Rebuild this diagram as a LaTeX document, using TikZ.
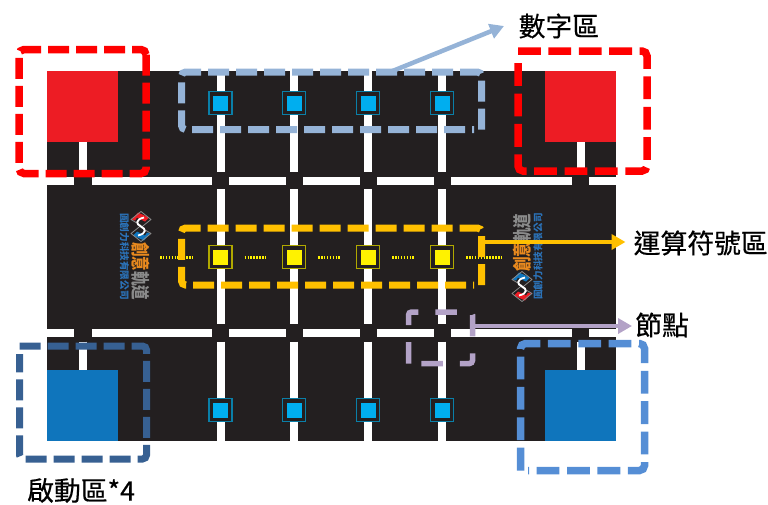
\documentclass[tikz,border=0pt]{standalone}
\usepackage{fontspec}
\setmainfont{Noto Sans CJK TC}
\newfontfamily\capfont[FakeBold=0.5]{Noto Sans CJK TC}
\usetikzlibrary{arrows.meta}
\definecolor{board}{HTML}{231F20}
\definecolor{tilered}{HTML}{ED1C24}
\definecolor{tileblue}{HTML}{0F75BC}
\definecolor{digitfill}{HTML}{00AEEF}
\definecolor{digitline}{HTML}{0A7FA8}
\definecolor{opfill}{HTML}{FFF200}
\definecolor{opline}{HTML}{B0A800}
\definecolor{zonedigit}{HTML}{95B3D7}
\definecolor{zoneop}{HTML}{FFC000}
\definecolor{zonenode}{HTML}{B3A2C7}
\definecolor{zonedark}{HTML}{376092}
\definecolor{zonelight}{HTML}{558ED5}
\definecolor{logoorange}{HTML}{E8891E}
\definecolor{logogray}{HTML}{8A8A8A}
\definecolor{logoblue}{HTML}{2B72B8}
\tikzset{
  whiteline/.style={draw=white,line width=8pt},
  tileouter/.style={rectangle,draw=#1,line width=1.2pt,fill=board,minimum size=23pt,inner sep=0pt},
  tileinner/.style={rectangle,fill=#1,minimum size=15pt,inner sep=0pt},
  zonered/.style={draw=red,line width=7.5pt,rounded corners=5pt,dash pattern=on 21pt off 7pt},
  zonewide/.style={draw=#1,line width=7.5pt,rounded corners=5pt,dash pattern=on 22.8pt off 7.6pt},
  zonethin/.style={draw=#1,line width=7pt,rounded corners=4pt,dash pattern=on 21pt off 7pt},
  pointer/.style={draw=#1,line width=4.5pt,-{Triangle[length=14pt,width=15pt]}},
  caption/.style={anchor=west,inner sep=0pt,font=\capfont\fontsize{26.8}{28}\selectfont,text=black},
  dots/.style={draw=opfill,line width=3pt,dash pattern=on 1.5pt off 1.4pt},
  logobig/.style={inner sep=0pt,font=\fontsize{14.5}{15}\selectfont\bfseries},
  logosmall/.style={inner sep=0pt,font=\fontsize{9.6}{10}\selectfont\bfseries,text=logoblue},
  brandmark/.pic={
    \fill[tilered] (-3,-14) -- (8,-9) -- (4,-5) -- (-4,-9) -- (-6,-6) -- (-9,-7) -- cycle;
    \fill[tileblue] (3,14) -- (-8,9) -- (-4,5) -- (4,9) -- (6,6) -- (9,7) -- cycle;
    \draw[logogray,line width=.8pt,line join=round] (0,-15) -- (10,-7) -- (0,1) -- (10,7) -- (0,15) -- (-10,7) -- (0,-1) -- (-10,-7) -- cycle;
    \draw[white,line width=1.8pt] (3,-9) .. controls (-6,-7) and (-5,-2) .. (0,0) .. controls (5,2) and (6,7) .. (-3,9);
  }
}
\begin{document}
\begin{tikzpicture}[x=1pt,y=-1pt]
\useasboundingbox (0,0) rectangle (768,504);
% board
\fill[board] (47,71) rectangle (616,441);
\fill[tilered] (47,71) rectangle (118,142);
\fill[tilered] (545,71) rectangle (616,142);
\fill[tileblue] (47,370) rectangle (118,441);
\fill[tileblue] (545,370) rectangle (616,441);
% tracks
\foreach \lx in {220.5,294,368,442}{
  \draw[whiteline] (\lx,71) -- (\lx,172);
  \draw[whiteline] (\lx,189) -- (\lx,323.5);
  \draw[whiteline] (\lx,341.5) -- (\lx,441);
}
\foreach \ly in {180.5,333}{
  \foreach \xa/\xb in {47/74,92/212,229/286,303/360,377/434,451/572,589/616}{
    \draw[whiteline] (\xa,\ly) -- (\xb,\ly);
  }
}
\foreach \lx in {83,580.5}{
  \draw[whiteline] (\lx,142) -- (\lx,172);
  \draw[whiteline] (\lx,341.5) -- (\lx,370);
}
% tiles
\foreach \n/\lx in {1/220.5,2/294,3/368,4/442}{
  \node[tileouter=digitline] (top\n) at (\lx,103) {};
  \node[tileinner=digitfill] (topin\n) at (\lx,103) {};
  \node[tileouter=digitline] (bot\n) at (\lx,410) {};
  \node[tileinner=digitfill] (botin\n) at (\lx,410) {};
  \node[tileouter=opline] (op\n) at (\lx,257) {};
  \node[tileinner=opfill] (opin\n) at (\lx,257) {};
}
% dotted links
\coordinate (dotL) at (160,257);
\coordinate (dotR) at (503,257);
\draw[dots,shorten >=14pt] (dotL) -- (op1.west);
\draw[dots,shorten <=12pt,shorten >=15pt] (op1.east) -- (op2.west);
\draw[dots,shorten <=12pt,shorten >=15pt] (op2.east) -- (op3.west);
\draw[dots,shorten <=12pt,shorten >=15pt] (op3.east) -- (op4.west);
\draw[dots,shorten <=12pt] (op4.east) -- (dotR);
% brand left
\pic at (141,226.5) {brandmark};
\node[logobig,rotate=-90] (brandL) at (140.5,271) {\scalebox{1}[1.3]{\textcolor{logoorange}{創意}\textcolor{logogray}{軌道}}};
\node[logosmall,rotate=-90] (subL) at (124.5,256.5) {圓創力科技有限公司};
% brand right
\pic[rotate=180] at (522,286.5) {brandmark};
\node[logobig,rotate=90] (brandR) at (522.5,242.5) {\scalebox{1}[1.3]{\textcolor{logoorange}{創意}\textcolor{logogray}{軌道}}};
\node[logosmall,rotate=90] (subR) at (538,256.5) {圓創力科技有限公司};
% zones
\draw[zonered] (146,49.5) -- (146,173.5) -- (19,173.5) -- (19,49.5) -- cycle;
\draw[zonewide=red] (518,51) -- (647,51) -- (647,171) -- (518,171) -- (518,58);
\draw[zonewide=zonelight] (520.5,470.5) -- (520.5,343.5) -- (644.5,343.5) -- (644.5,470.5) -- (528,470.5);
\draw[zonethin=zonedark] (19.5,346) -- (146.5,346) -- (146.5,459) -- (19.5,459) -- (19.5,354);
\draw[zonethin=zonedigit] (481.5,129.5) -- (481.5,72) -- (181.5,72) -- (181.5,129.5) -- (474,129.5);
\draw[zonethin=zoneop] (481.5,285) -- (481.5,228) -- (181.5,228) -- (181.5,285) -- (474,285);
\draw[draw=zonenode,line width=5.5pt,rounded corners=3pt,dash pattern=on 21.5pt off 17pt] (408.5,363.5) -- (408.5,312) -- (472.5,312) -- (472.5,363.5) -- (411,363.5);
% labels
\node[caption] (digitlabel) at (518.5,26) {數字區};
\node[caption] (oplabel) at (633.5,243) {運算符號區};
\node[caption] (nodelabel) at (635,325) {節點};
\node[caption] (startlabel) at (27,490.5) {啟動區*4};
% pointers
\coordinate (digitfrom) at (390,72);
\coordinate (digittip) at (504,26);
\coordinate (opfrom) at (481.5,242);
\coordinate (optip) at (625.5,242);
\coordinate (nodefrom) at (472,326);
\coordinate (nodetip) at (632,326);
\draw[pointer=zonedigit] (digitfrom) -- (digittip);
\draw[pointer=zoneop] (opfrom) -- (optip);
\draw[pointer=zonenode] (nodefrom) -- (nodetip);
\end{tikzpicture}
\end{document}
